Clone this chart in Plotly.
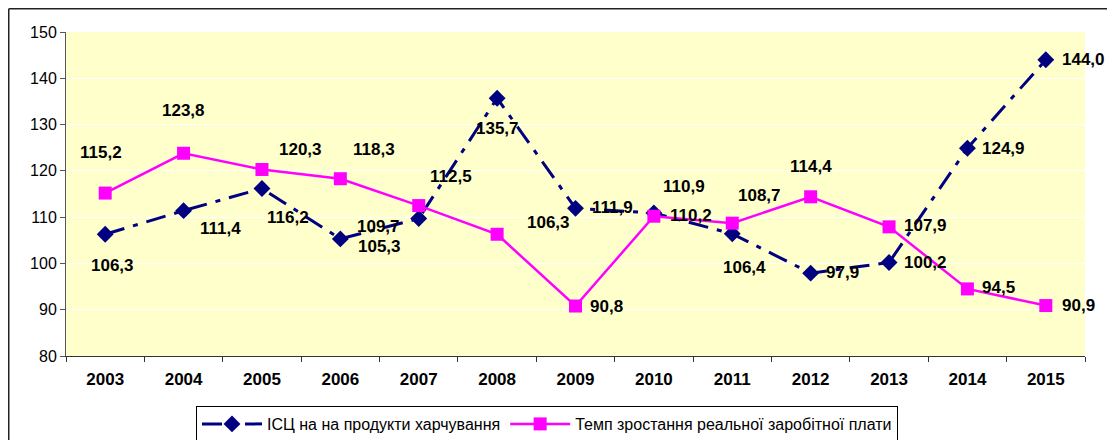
import plotly.graph_objects as go

years = ["2003", "2004", "2005", "2006", "2007", "2008", "2009",
         "2010", "2011", "2012", "2013", "2014", "2015"]
cpi_food = [106.3, 111.4, 116.2, 105.3, 109.7, 135.7, 111.9,
            110.9, 106.4, 97.9, 100.2, 124.9, 144.0]
real_wage = [115.2, 123.8, 120.3, 118.3, 112.5, 106.3, 90.8,
             110.2, 108.7, 114.4, 107.9, 94.5, 90.9]
name_cpi = "ІСЦ на на продукти харчування"
name_wage = "Темп зростання реальної заробітної плати"
y_ticks = [80, 90, 100, 110, 120, 130, 140, 150]

# label offsets in pixels (dx right, dy down) — styling only
cpi_off = [(7, 31), (37, 18), (26, 29), (39, 8), (-40, 8), (0, 30), (37, -1),
           (30, -26), (12, 34), (32, -1), (36, 0), (36, 0), (38, 0)]
wage_off = [(-4, -41), (0, -43), (39, -20), (34, -29), (32, -29), (51, -12), (31, 0),
            (37, -1), (27, -28), (0, -30), (36, -1), (31, -1), (33, 0)]

NAVY = "#000080"
PINK = "#FF00FF"
FONT = "Liberation Sans, Arial, sans-serif"

fig = go.Figure()
fig.add_trace(go.Scatter(
    x=years, y=cpi_food, name=name_cpi, mode="lines+markers",
    line=dict(color=NAVY, width=3, dash="20px,9px,5px,9px"),
    marker=dict(symbol="diamond", size=13, color=NAVY),
))
fig.add_trace(go.Scatter(
    x=years, y=real_wage, name=name_wage, mode="lines+markers",
    line=dict(color=PINK, width=2.5),
    marker=dict(symbol="square", size=13, color=PINK),
))

def fmt(v):
    return f"{v:.1f}".replace(".", ",")

annotations = []
for series, offs in ((cpi_food, cpi_off), (real_wage, wage_off)):
    for i, (v, (dx, dy)) in enumerate(zip(series, offs)):
        annotations.append(dict(
            x=i, y=v, xref="x", yref="y", text=fmt(v), showarrow=False,
            xshift=dx, yshift=-dy,
            font=dict(family=FONT, size=17, color="black", weight="bold"),
        ))

# page has an 8px body margin; figure is placed at (8, 8)
OFF = 8
W, H = 1115 - OFF, 440 - OFF
L, T = 66 - OFF, 32 - OFF
R = 1115 - 1085
ph = 324
B = H - T - ph
pw = W - L - R

bx = 0.75 - L  # border x in figure px relative to plot left
by = T - 0.75  # border y above plot top
shapes = [
    dict(type="line", xref="paper", yref="paper",
         x0=bx / pw, x1=(W + 5 - L) / pw,
         y0=1 + by / ph, y1=1 + by / ph,
         line=dict(color="#222222", width=1.5)),
    dict(type="line", xref="paper", yref="paper",
         x0=bx / pw, x1=bx / pw,
         y0=1 + by / ph, y1=-(B + 5) / ph,
         line=dict(color="#222222", width=1.5)),
]

fig.update_layout(
    width=W, height=H,
    margin=dict(l=L, r=R, t=T, b=B, autoexpand=False),
    paper_bgcolor="white",
    plot_bgcolor="#FFFFCC",
    font=dict(family=FONT, size=15, color="black"),
    annotations=annotations,
    shapes=shapes,
    showlegend=True,
    legend=dict(
        orientation="h", x=(547 - 66) / pw, xanchor="center",
        y=-(406 - 356) / ph, yanchor="top",
        bordercolor="black", borderwidth=1, bgcolor="white",
        font=dict(family=FONT, size=16, color="black"),
        itemwidth=60,
    ),
    xaxis=dict(
        type="category", categoryorder="array", categoryarray=years,
        range=[-0.5, len(years) - 0.5], autorange=False,
        showgrid=False,
        showline=True, linecolor="#333333", linewidth=1,
        ticks="outside", tickson="boundaries", ticklen=5, tickcolor="#333333",
        tickangle=0, ticklabelstandoff=8,
        tickfont=dict(family=FONT, size=17, color="black", weight="bold"),
        fixedrange=True,
    ),
    yaxis=dict(
        range=[80, 150], tickvals=y_ticks,
        showgrid=True, gridcolor="#FFFFFF", gridwidth=1,
        showline=True, linecolor="#555555", linewidth=1,
        ticks="outside", ticklen=5, tickcolor="#555555",
        tickfont=dict(family=FONT, size=16, color="black"),
        zeroline=False, fixedrange=True,
    ),
)

fig.write_html("out.html")
